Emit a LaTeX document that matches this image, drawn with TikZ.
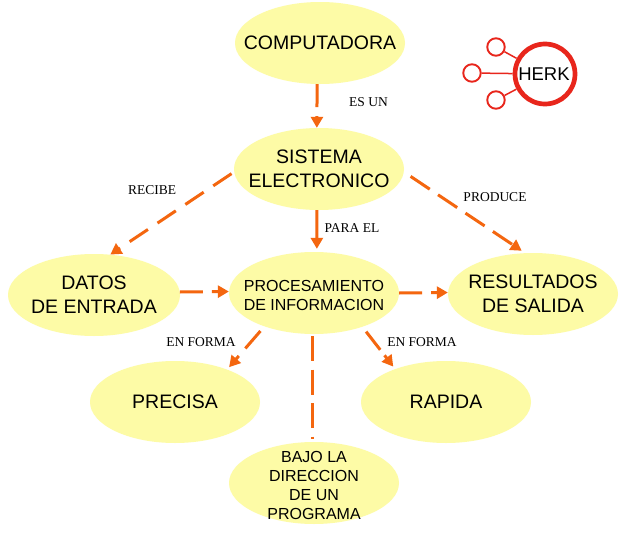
\documentclass[tikz,border=0pt]{standalone}
\usepackage{fontspec}
\setmainfont{Liberation Sans}
\newfontfamily\labelfont{Liberation Serif}
\usetikzlibrary{shapes.geometric,arrows.meta}
\definecolor{blobfill}{HTML}{FDFBA6}
\definecolor{linkc}{HTML}{F4660F}
\definecolor{logored}{HTML}{E8261C}
\tikzset{
  blob/.style={ellipse,fill=blobfill,draw=none,minimum width=170pt,minimum height=82pt,inner sep=-30pt,align=center,font=\fontsize{19.5}{24}\selectfont},
  thinblob/.style={blob,font=\fontsize{16}{19}\selectfont},
  link/.style={draw=linkc,line width=3pt,-{Triangle[length=11pt,width=12pt]}},
  tag/.style={font=\labelfont\fontsize{13.5}{15}\selectfont,inner sep=0pt},
  ring/.style={circle,draw=logored,line width=1.9pt,minimum size=17.5pt,inner sep=0pt},
  logoline/.style={draw=logored,line width=1.5pt},
}
\begin{document}
\begin{tikzpicture}[x=1pt,y=-1pt]
\useasboundingbox[fill=white] (0,0) rectangle (625,533);
\node[blob] (comp) at (320,43) {COMPUTADORA};
\node[blob] (sis) at (319,169) {SISTEMA\\ELECTRONICO};
\node[blob,minimum width=172pt] (dat) at (94,295) {DATOS\\DE ENTRADA};
\node[thinblob] (pro) at (314,293) {\rule{0pt}{16pt}PROCESAMIENTO\\DE INFORMACION};
\node[blob] (res) at (533,294) {RESULTADOS\\DE SALIDA};
\node[blob] (pre) at (175,402) {PRECISA};
\node[blob] (rap) at (446,402) {RAPIDA};
\node[thinblob] (baj) at (314,483) {\rule{0pt}{16pt}BAJO LA\\DIRECCION\\DE UN\\PROGRAMA};

\draw[link,dash pattern=on 23pt off 9pt] (comp.266) -- (sis.93);
\draw[link,dash pattern=on 22pt off 11.5pt,shorten <=3pt] (sis.182) -- (dat.68);
\draw[link,dash pattern=on 33pt off 4pt,shorten >=3pt] (sis.267) -- (pro.86);
\draw[link,dash pattern=on 23pt off 10pt,shorten <=8pt,shorten >=4pt] (sis.358) -- (res.101);
\draw[link,dash pattern=on 23pt off 9pt] (dat.2) -- (pro.179);
\draw[link,dash pattern=on 23pt off 9pt] (pro.0) -- (res.179);
\draw[link,dash pattern=on 23pt off 10pt,shorten <=6pt,shorten >=3pt] (pro.214) -- (pre.32);
\draw[link,dash pattern=on 23pt off 7pt,shorten <=6pt,shorten >=3pt] (pro.325) -- (rap.147);
\draw[draw=linkc,line width=3pt,dash pattern=on 25pt off 8.5pt,shorten >=3pt,shorten <=2pt] (pro.268) -- (baj.92);

\node[tag] (t1) at (368.5,102) {ES UN};
\node[tag] (t2) at (152,190) {RECIBE};
\node[tag] (t3) at (495,197) {PRODUCE};
\node[tag] (t4) at (352,228) {PARA EL};
\node[tag] (t5) at (201,342) {EN FORMA};
\node[tag] (t6) at (422,342) {EN FORMA};

\node[circle,draw=logored,line width=4.7pt,minimum size=60pt,inner sep=0pt] (hub) at (545,74) {};
\node[font=\fontsize{18.5}{19}\selectfont,inner sep=0pt] (herk) at (544,74) {HERK};
\node[ring] (r1) at (496,47) {};
\node[ring] (r2) at (472,73) {};
\node[ring] (r3) at (496,100) {};
\draw[logoline] (r1) -- (hub);
\draw[logoline] (r2) -- (hub);
\draw[logoline] (r3) -- (hub);
\end{tikzpicture}
\end{document}
